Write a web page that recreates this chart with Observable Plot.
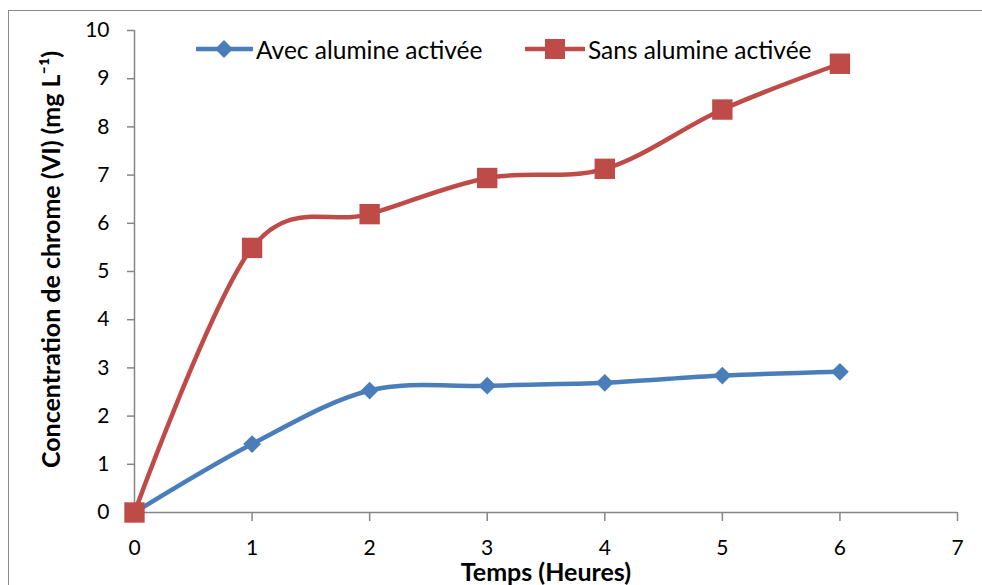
<!DOCTYPE html>
<html>
<head>
<meta charset="utf-8">
<script src="https://cdn.jsdelivr.net/npm/d3@7"></script>
<script src="https://cdn.jsdelivr.net/npm/@observablehq/plot@0.6"></script>
<style>
  body { margin: 0; background: #fff; }
  #wrap { position: relative; width: 982px; height: 585px; overflow: hidden; font-family: Lato, "Open Sans", sans-serif; }
  #border { position: absolute; left: 8px; top: 10px; width: 1200px; height: 800px; border-left: 1.5px solid #8a8a8a; border-top: 1.5px solid #8a8a8a; pointer-events: none; }
  #chart { position: absolute; left: 0; top: 0; }
  #legend { position: absolute; top: 35px; left: 0; width: 982px; height: 28px; font-size: 24.5px; color: #000; }
  .entry { position: absolute; display: flex; align-items: center; white-space: nowrap; height: 28px; }
  .entry svg { display: block; margin-right: 3px; }
  [aria-label="x-axis label"] text, [aria-label="y-axis label"] text { font-weight: bold; font-size: 25px; }
</style>
</head>
<body>
<div id="wrap">
  <div id="border"></div>
  <div id="chart"></div>
  <div id="legend"></div>
</div>
<script>
const hours = [0, 1, 2, 3, 4, 5, 6];
const avec = [0, 1.42, 2.53, 2.63, 2.69, 2.84, 2.92];
const sans = [0, 5.49, 6.19, 6.94, 7.13, 8.36, 9.31];
const seriesNames = ["Avec alumine activée", "Sans alumine activée"];
const seriesColors = ["#4a7ebb", "#be4b48"];
const xTicks = [0, 1, 2, 3, 4, 5, 6, 7];
const yTicks = [0, 1, 2, 3, 4, 5, 6, 7, 8, 9, 10];
const xTitle = "Temps (Heures)";
const yTitle = "Concentration de chrome (VI) (mg L\u207B\u00B9)";

const avecData = hours.map((h, i) => ({hour: h, value: avec[i], series: seriesNames[0]}));
const sansData = hours.map((h, i) => ({hour: h, value: sans[i], series: seriesNames[1]}));

const axisGray = "#868686";

const chart = Plot.plot({
  width: 982,
  height: 585,
  marginLeft: 134,
  marginRight: 25,
  marginTop: 30,
  marginBottom: 73,
  style: {fontFamily: "Lato, 'Open Sans', sans-serif", fontSize: "21px", color: "#000", background: "transparent"},
  x: {domain: [0, 7]},
  y: {domain: [0, 10]},
  color: {domain: seriesNames, range: seriesColors},
  marks: [
    Plot.axisX({ticks: xTicks, tickFormat: "d", tickSize: 9, tickPadding: 19, stroke: axisGray, strokeWidth: 1.5, fill: "#000",
      label: xTitle, labelAnchor: "center", labelArrow: "none", labelOffset: 68}),
    Plot.axisY({ticks: yTicks, tickFormat: "d", tickSize: 7, tickPadding: 18, stroke: axisGray, strokeWidth: 1.5, fill: "#000",
      label: yTitle, labelAnchor: "center", labelArrow: "none", labelOffset: 92}),
    Plot.ruleY([0], {stroke: axisGray, strokeWidth: 1.5}),
    Plot.ruleX([0], {stroke: axisGray, strokeWidth: 1.5}),
    Plot.line(avecData, {x: "hour", y: "value", stroke: "series", strokeWidth: 4.5, curve: "cardinal"}),
    Plot.dot(avecData, {x: "hour", y: "value", fill: "series", symbol: "diamond2", r: 8, stroke: null}),
    Plot.line(sansData, {x: "hour", y: "value", stroke: "series", strokeWidth: 4.5, curve: "cardinal"}),
    Plot.dot(sansData, {x: "hour", y: "value", fill: "series", symbol: "square", r: 11.5, stroke: null})
  ]
});
document.getElementById("chart").appendChild(chart);
// shift the y-axis title slightly upward to match the reference placement
const yl = chart.querySelector('[aria-label="y-axis label"]');
if (yl) yl.setAttribute("transform", (yl.getAttribute("transform") || "") + " translate(0,-12)");

// Legend
const legend = document.getElementById("legend");
const legendLefts = [196, 525];
const markerSvgs = [
  '<svg width="57" height="24"><line x1="1" y1="12" x2="56" y2="12" stroke="' + seriesColors[0] + '" stroke-width="4.5" stroke-linecap="round"/><path d="M28 3 L37 12 L28 21 L19 12 Z" fill="' + seriesColors[0] + '"/></svg>',
  '<svg width="60" height="24"><line x1="1" y1="12" x2="59" y2="12" stroke="' + seriesColors[1] + '" stroke-width="4.5" stroke-linecap="round"/><rect x="20" y="2" width="20" height="20" fill="' + seriesColors[1] + '"/></svg>'
];
seriesNames.forEach((name, i) => {
  const e = document.createElement("div");
  e.className = "entry";
  e.style.left = legendLefts[i] + "px";
  e.innerHTML = markerSvgs[i] + "<span>" + name + "</span>";
  legend.appendChild(e);
});
</script>
</body>
</html>
